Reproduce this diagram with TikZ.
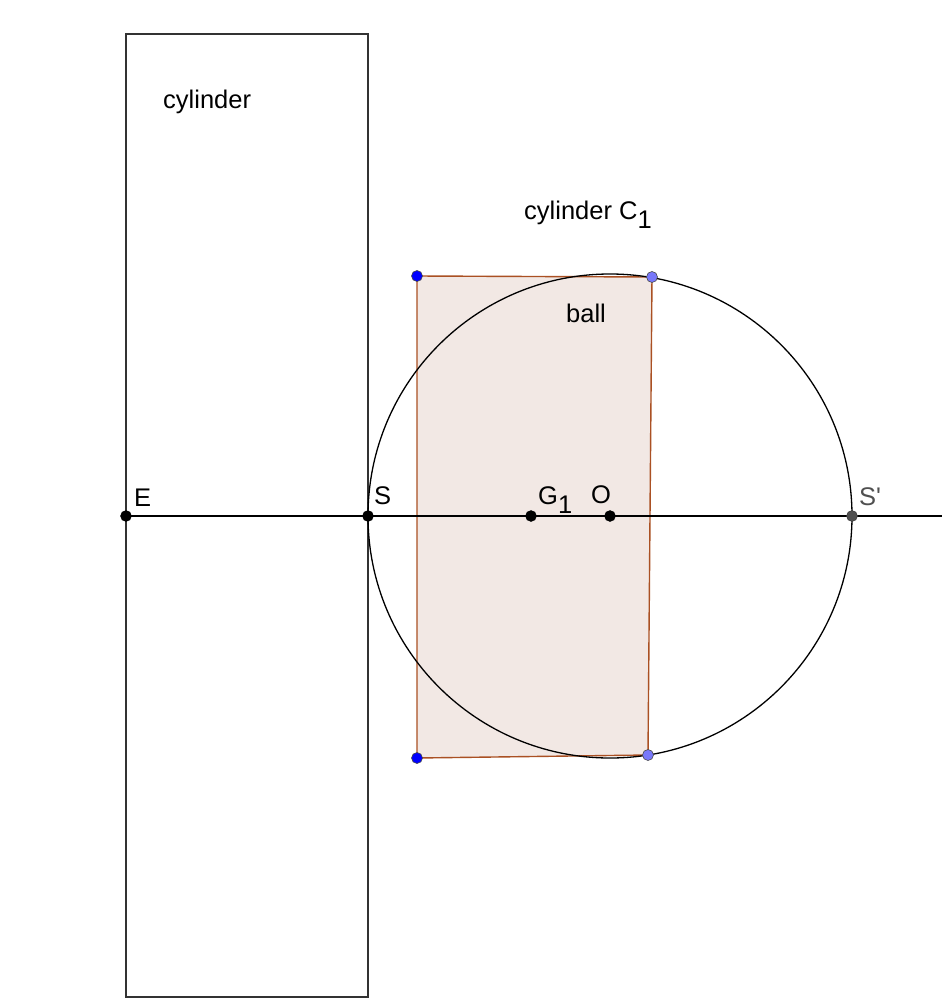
\documentclass[tikz,border=0pt]{standalone}
\usepackage{fontspec}
\setmainfont{Liberation Sans}
\definecolor{brownedge}{RGB}{170,80,35}
\definecolor{ballfill}{RGB}{242,232,228}
\definecolor{ptblue}{RGB}{0,0,255}
\definecolor{ptlight}{RGB}{120,120,250}
\definecolor{sgrey}{RGB}{80,80,80}
\tikzset{
  lbl/.style={anchor=base west, inner sep=0pt, font=\fontsize{25.5bp}{30bp}\selectfont},
  blackpt/.style={circle, fill=black, draw=black, inner sep=0pt, minimum size=11bp},
  bluept/.style={circle, fill=ptblue, draw=black!70, line width=0.6bp, inner sep=0pt, minimum size=11bp},
  lightpt/.style={circle, fill=ptlight, draw=black!70, line width=0.6bp, inner sep=0pt, minimum size=11bp},
  greypt/.style={circle, fill=sgrey, draw=black!80, inner sep=0pt, minimum size=11bp},
  edge/.style={draw=brownedge, line width=1.4bp},
  thinline/.style={line width=1.3bp}
}
\begin{document}
\begin{tikzpicture}[x=1bp,y=-1bp]
\useasboundingbox[fill=white] (0,0) rectangle (942,1008);
% coordinates
\coordinate (E) at (126,516);
\coordinate (S) at (368,516);
\coordinate (G) at (531,516);
\coordinate (O) at (610,516);
\coordinate (Sp) at (852,516);
\coordinate (R) at (942,516);
\coordinate (A) at (417,276);
\coordinate (B) at (652,277);
\coordinate (C) at (648,755);
\coordinate (D) at (417,758);
% cylinder rectangle
\draw[thinline, draw=black!80] (126,34) rectangle (368,997);
% ball section
\fill[ballfill] (A) -- (B) -- (C) -- (D) -- cycle;
\draw[edge] (A) -- (B) -- (C) -- (D) -- cycle;
% circle and axis
\draw[thinline] (O) circle[radius=242];
\draw[thinline] (E) -- (R);
% points
\node[blackpt] (nE) at (E) {};
\node[blackpt] (nS) at (S) {};
\node[blackpt] (nG) at (G) {};
\node[blackpt] (nO) at (O) {};
\node[greypt] (nSp) at (Sp) {};
\node[bluept] (nA) at (A) {};
\node[bluept] (nD) at (D) {};
\node[lightpt] (nB) at (B) {};
\node[lightpt] (nC) at (C) {};
% labels
\node[lbl] (tcyl) at (163,108) {cylinder};
\node[lbl] (tcyl1) at (524,219) {cylinder C\raisebox{-9bp}{1}};
\node[lbl] (tball) at (566,322) {ball};
\node[lbl] (tE) at (134,506) {E};
\node[lbl] (tS) at (374,504) {S};
\node[lbl] (tG) at (538,504) {G\raisebox{-9bp}{1}};
\node[lbl] (tO) at (591,503) {O};
\node[lbl, text=sgrey] (tSp) at (859,505) {S\textquotesingle};
\end{tikzpicture}
\end{document}
